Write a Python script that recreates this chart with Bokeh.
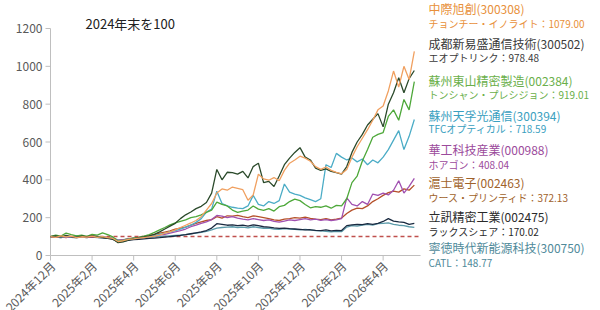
import math
from bokeh.plotting import figure
from bokeh.models import Label
from bokeh.embed import file_html
from bokeh.resources import INLINE

# months since end of 2024 (weekly-ish steps)
months = [i * 0.25 for i in range(71)]

x_tick_pos = [0, 2, 4, 6, 8, 10, 12, 14, 16]
x_tick_labels = ["2024年12月", "2025年2月", "2025年4月", "2025年6月", "2025年8月",
                 "2025年10月", "2025年12月", "2026年2月", "2026年4月"]
y_tick_pos = [0, 200, 400, 600, 800, 1000, 1200]
y_tick_labels = ["0", "200", "400", "600", "800", "1000", "1200"]

zhongji = [100, 96, 104, 98, 102, 95, 99, 97, 103, 96, 100, 94, 90,
           74, 78, 85, 88, 92, 95, 98, 102, 108, 118, 125, 135,
           148, 160, 172, 185, 205, 240, 275,
           330, 352, 345, 362, 355, 348, 292, 320, 430, 405, 398, 412, 395,
           450, 488, 505, 525, 515, 498, 470, 455, 468, 450, 440, 432,
           455, 520, 575, 620, 665, 715, 770, 790, 870, 975, 890, 1000, 930, 1079]
eoptolink = [100, 104, 98, 106, 100, 97, 103, 99, 105, 100, 96, 92, 88,
             68, 72, 82, 88, 94, 98, 104, 112, 125, 140, 155, 170,
             195, 215, 230, 248, 260, 280, 330,
             455, 400, 440, 438, 430, 445, 410, 470, 488, 385, 392, 365, 420,
             480, 515, 545, 570, 520, 505, 462, 450, 458, 445, 438, 430,
             470, 545, 600, 640, 690, 720, 750, 680, 800, 860, 940, 860, 935, 978]
dongshan = [100, 108, 103, 118, 110, 104, 107, 101, 112, 108, 120, 110, 98,
            75, 80, 86, 92, 96, 102, 110, 122, 135, 148, 162, 172,
            180, 188, 200, 205, 215, 228, 240,
            282, 270, 262, 240, 228, 235, 240, 262, 245, 238, 248, 235, 258,
            265, 285, 298, 290, 270, 252, 258, 255, 262, 250, 265, 262,
            300, 385, 420, 500, 560, 625, 640, 650, 735, 770, 715, 825, 770, 919]
tfc = [100, 102, 97, 101, 99, 104, 98, 100, 102, 97, 99, 95, 92,
       78, 80, 86, 90, 94, 97, 100, 105, 112, 118, 125, 132,
       140, 150, 160, 175, 195, 230, 245,
       340, 275, 262, 255, 250, 248, 262, 318, 270, 262, 285, 275, 290,
       378, 335, 325, 318, 305, 295, 285, 300, 480, 465, 540, 520,
       505, 515, 495, 510, 480, 505, 490, 520, 560, 610, 660, 560, 630, 719]
huagong = [100, 98, 101, 96, 99, 102, 97, 100, 98, 101, 97, 95, 93,
           80, 82, 88, 92, 95, 98, 100, 104, 108, 112, 118, 125,
           132, 140, 152, 160, 170, 178, 190,
           212, 208, 200, 205, 198, 192, 188, 195, 190, 185, 188, 180, 176,
           182, 188, 185, 190, 195, 188, 192, 186, 190, 185, 188, 195,
           305, 270, 262, 285, 270, 325, 318, 330, 320, 345, 395, 330, 365, 408]
wus = [100, 97, 99, 95, 100, 98, 96, 99, 97, 100, 98, 94, 92,
       78, 82, 88, 92, 96, 100, 105, 112, 118, 124, 130, 140,
       145, 150, 160, 170, 178, 185, 190,
       205, 198, 210, 208, 212, 205, 200, 210, 205, 200, 195, 188, 185,
       192, 195, 200, 198, 203, 196, 192, 190, 195, 188, 192, 198,
       222, 240, 250, 248, 262, 285, 300, 318, 332, 340, 335, 352, 345, 372]
luxshare = [100, 97, 95, 98, 96, 94, 97, 95, 98, 96, 93, 90, 85,
            72, 75, 80, 84, 86, 88, 90, 92, 94, 97, 100, 103,
            106, 110, 115, 120, 125, 132, 145,
            168, 165, 160, 162, 158, 160, 155, 162, 158, 152, 150, 146, 143,
            145, 142, 140, 138, 135, 136, 133, 132, 135, 130, 133, 132,
            158, 162, 165, 163, 168, 165, 170, 180, 195, 182, 178, 175, 165, 170]
catl = [100, 98, 96, 99, 97, 95, 98, 96, 97, 94, 95, 92, 90,
        82, 84, 88, 90, 92, 94, 96, 98, 100, 102, 104, 106,
        108, 110, 114, 118, 122, 128, 135,
        145, 148, 150, 152, 148, 150, 146, 152, 148, 144, 145, 140, 138,
        142, 140, 138, 136, 138, 135, 132, 130, 128, 125, 128, 126,
        150, 158, 155, 160, 165, 160, 168, 170, 172, 165, 160, 158, 152, 149]

names = ["中際旭創(300308)", "成都新易盛通信技術(300502)", "蘇州東山精密製造(002384)",
         "蘇州天孚光通信(300394)", "華工科技産業(000988)", "滬士電子(002463)",
         "立訊精密工業(002475)", "寧徳時代新能源科技(300750)"]
subs = ["チョンチー・イノライト：1079.00", "エオプトリンク：978.48",
        "トンシャン・プレシジョン：919.01", "TFCオプティカル：718.59",
        "ホアゴン：408.04", "ウース・プリンティド：372.13",
        "ラックスシェア：170.02", "CATL：148.77"]
series = [zhongji, eoptolink, dongshan, tfc, huagong, wus, luxshare, catl]
line_colors = ["#F0A060", "#2B4A2B", "#4EA83A", "#4BACC6", "#A050B0", "#B5502A", "#1A2A40", "#5B9BAA"]
text_colors = ["#E8903A", "#3A3A3A", "#6AAF4A", "#3AA0C0", "#9B4A9B", "#A0622A", "#2A2A2A", "#4F8A9A"]

FONT = "Noto Sans CJK JP"
AXIS_COLOR = "#BFBFBF"
TICK_TEXT = "#595959"

# layout in pixels: plot origin (x=0 month, y=0) at (50, 255); 1200 at y=28
W, H = 600, 310
X0, Y0 = 50, 255
PX_PER_MONTH = 20.79
PX_PER_UNIT = 227 / 1200.0
X_END = 17.8


def dx(px):
    return px / PX_PER_MONTH


def dy(px):
    return px / PX_PER_UNIT


p = figure(width=W, height=H, output_backend="svg", toolbar_location=None,
           x_axis_type=None, y_axis_type=None,
           x_range=(-dx(X0), dx(W - X0)), y_range=(-dy(H - Y0), dy(Y0)),
           min_border=0, min_border_left=0, min_border_right=0,
           min_border_top=0, min_border_bottom=0)
p.outline_line_color = None
p.background_fill_color = "white"

# axes drawn in data space
p.segment(x0=[0], y0=[0], x1=[0], y1=[1200], line_color=AXIS_COLOR, line_width=1)
p.segment(x0=[0], y0=[0], x1=[X_END], y1=[0], line_color=AXIS_COLOR, line_width=1)
p.segment(x0=[-dx(5)] * len(y_tick_pos), y0=y_tick_pos, x1=[0] * len(y_tick_pos), y1=y_tick_pos,
          line_color=AXIS_COLOR, line_width=1)
p.segment(x0=x_tick_pos, y0=[-dy(5)] * len(x_tick_pos), x1=x_tick_pos, y1=[0] * len(x_tick_pos),
          line_color=AXIS_COLOR, line_width=1)
p.text(x=[-dx(8)] * len(y_tick_pos), y=y_tick_pos, text=y_tick_labels,
       text_font={"value": FONT}, text_font_size="12px", text_color=TICK_TEXT,
       text_align="right", text_baseline="middle")
p.text(x=[t + dx(2) for t in x_tick_pos], y=[-dy(8)] * len(x_tick_pos), text=x_tick_labels,
       angle=math.pi / 4, text_font={"value": FONT}, text_font_size="12px", text_color=TICK_TEXT,
       text_align="right", text_baseline="middle")

# baseline at 100
p.line(x=[0, X_END], y=[100, 100], line_color="#C0504D", line_dash="4 3", line_width=1.5)

order = [7, 6, 5, 4, 3, 2, 1, 0]
for i in order:
    p.line(months, series[i], line_color=line_colors[i], line_width=1.3)

p.add_layout(Label(x=dx(85 - X0), y=dy(Y0 - 23), text="2024年末を100", text_font=FONT,
                   text_font_size="13px", text_color="#202020", text_baseline="middle"))

# label rows (pixel y from top)
name_rows = [8, 43, 80, 115, 149, 182, 216, 247]
sub_rows = [23, 57, 94, 128, 164, 197, 231, 262]
for i in range(8):
    p.add_layout(Label(x=dx(428 - X0), y=dy(Y0 - name_rows[i]), text=names[i], text_font=FONT,
                       text_font_size="12px", text_color=text_colors[i], text_baseline="middle"))
    p.add_layout(Label(x=dx(428 - X0), y=dy(Y0 - sub_rows[i]), text=subs[i], text_font=FONT,
                       text_font_size="10px", text_color=text_colors[i], text_baseline="middle"))

open("out.html", "w").write(file_html(p, INLINE))
